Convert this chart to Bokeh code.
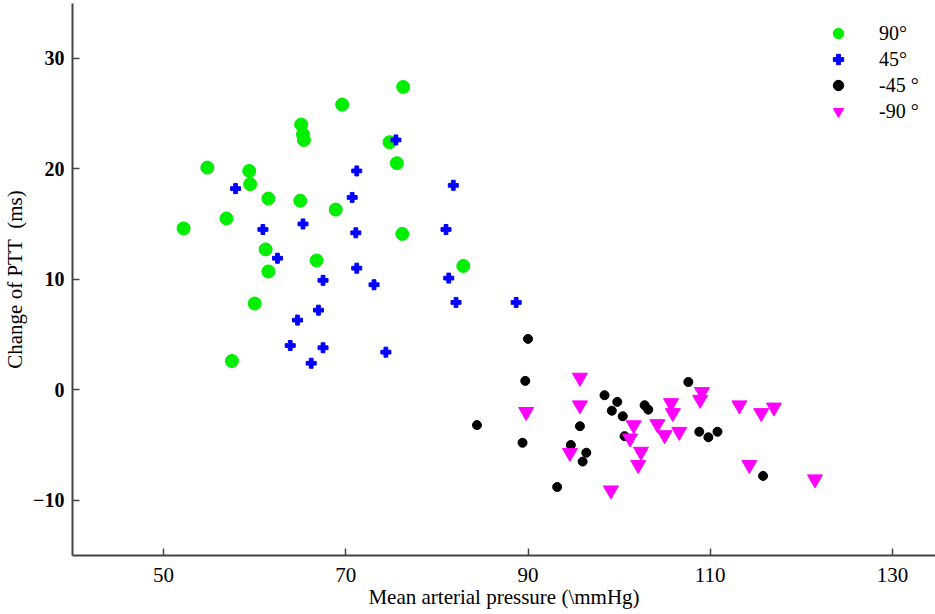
from bokeh.plotting import figure
from bokeh.models import Range1d, Legend, LegendItem, FixedTicker
from bokeh.embed import file_html
from bokeh.resources import INLINE

# 90 degrees
x90 = [52.2, 54.8, 56.9, 57.5, 59.4, 59.5, 60.0, 61.5, 61.2, 61.5, 65.1, 65.3, 65.4, 65.0,
       66.8, 68.9, 69.6, 74.8, 75.6, 76.2, 76.3, 82.9]
y90 = [14.6, 20.1, 15.5, 2.6, 19.8, 18.6, 7.8, 17.3, 12.7, 10.7, 24.0, 23.1, 22.6, 17.1,
       11.7, 16.3, 25.8, 22.4, 20.5, 14.1, 27.4, 11.2]

# 45 degrees
x45 = [75.5, 71.2, 81.8, 57.9, 70.7, 65.3, 60.9, 71.1, 81.0, 62.5, 71.2, 67.5, 73.1, 81.3,
       82.1, 67.0, 64.7, 63.9, 67.5, 66.2, 74.4, 88.7]
y45 = [22.6, 19.8, 18.5, 18.2, 17.4, 15.0, 14.5, 14.2, 14.5, 11.9, 11.0, 9.9, 9.5, 10.1,
       7.9, 7.2, 6.3, 4.0, 3.8, 2.4, 3.4, 7.9]

# -45 degrees
xm45 = [90.0, 89.7, 107.6, 98.4, 99.8, 99.2, 102.8, 103.2, 100.4, 84.4, 95.7, 89.4, 100.6,
        108.8, 109.8, 110.8, 94.7, 96.4, 96.0, 115.8, 93.2]
ym45 = [4.6, 0.8, 0.7, -0.5, -1.1, -1.9, -1.4, -1.8, -2.4, -3.2, -3.3, -4.8, -4.2,
        -3.8, -4.3, -3.8, -5.0, -5.7, -6.5, -7.8, -8.8]

# -90 degrees
xm90 = [95.7, 89.8, 95.7, 109.1, 108.9, 105.7, 105.9, 113.2, 115.6, 117.0, 101.6, 104.2,
        105.0, 106.6, 101.2, 102.4, 102.1, 94.6, 114.3, 121.5, 99.1]
ym90 = [1.1, -2.0, -1.4, -0.2, -0.9, -1.2, -2.1, -1.4, -2.1, -1.6, -3.2, -3.1,
        -4.1, -3.8, -4.4, -5.6, -6.8, -5.7, -6.8, -8.1, -9.1]

x_ticks = [50, 70, 90, 110, 130]
y_ticks = [-10, 0, 10, 20, 30]
labels = ["90\u00b0", "45\u00b0", "-45 \u00b0", "-90 \u00b0"]

FONT = "Liberation Serif"

p = figure(frame_width=863, frame_height=552, output_backend="svg", toolbar_location=None,
           x_range=Range1d(40, 134.73), y_range=Range1d(-15, 34.95),
           min_border_left=72, min_border_right=0, min_border_top=3, min_border_bottom=59)
p.outline_line_color = None
p.grid.visible = False
p.background_fill_color = "white"

r1 = p.scatter(x90, y90, marker="circle", size=13, fill_color="#00ee00", line_color="#00ee00")
r2 = p.scatter(x45, y45, marker="plus", size=10, fill_color="#0000ff", line_color="#0000ff")
r3 = p.scatter(xm45, ym45, marker="circle", size=9, fill_color="black", line_color="black")
r4 = p.scatter(xm90, ym90, marker="inverted_triangle", size=15, fill_color="#ff00ff", line_color="#ff00ff")

legend = Legend(items=[LegendItem(label=labels[0], renderers=[r1]),
                       LegendItem(label=labels[1], renderers=[r2]),
                       LegendItem(label=labels[2], renderers=[r3]),
                       LegendItem(label=labels[3], renderers=[r4])],
                location=(751, 431))
legend.border_line_color = None
legend.background_fill_alpha = 0
legend.label_text_font = FONT
legend.label_text_font_size = "20px"
legend.label_text_color = "black"
legend.glyph_width = 30
legend.glyph_height = 26
legend.label_height = 20
legend.spacing = 0
legend.label_standoff = 26
legend.padding = 10
p.add_layout(legend, "center")

p.xaxis.ticker = FixedTicker(ticks=x_ticks)
p.yaxis.ticker = FixedTicker(ticks=y_ticks)
p.xaxis.minor_tick_line_color = None
p.yaxis.minor_tick_line_color = None
for ax in (p.xaxis, p.yaxis):
    ax.major_tick_in = 7
    ax.major_tick_out = 0
    ax.axis_line_color = "#444444"
    ax.axis_line_width = 2
    ax.major_tick_line_color = "#444444"
    ax.major_tick_line_width = 1.5
    ax.major_label_text_font = FONT
    ax.major_label_text_color = "black"
    ax.axis_label_text_font = FONT
    ax.axis_label_text_font_size = "21px"
    ax.axis_label_text_font_style = "normal"
    ax.axis_label_text_color = "black"

p.xaxis.major_label_text_font_size = "21px"
p.yaxis.major_label_text_font_size = "20px"
p.yaxis.major_label_text_font_style = "bold"
p.xaxis.major_label_standoff = 12
p.yaxis.major_label_standoff = 8
p.xaxis.axis_label = "Mean arterial pressure (\\mmHg)"
p.yaxis.axis_label = "Change of PTT\u00a0 (ms)"
p.xaxis.axis_label_standoff = 0
p.yaxis.axis_label_standoff = 3

open("out.html", "w").write(file_html(p, INLINE))
